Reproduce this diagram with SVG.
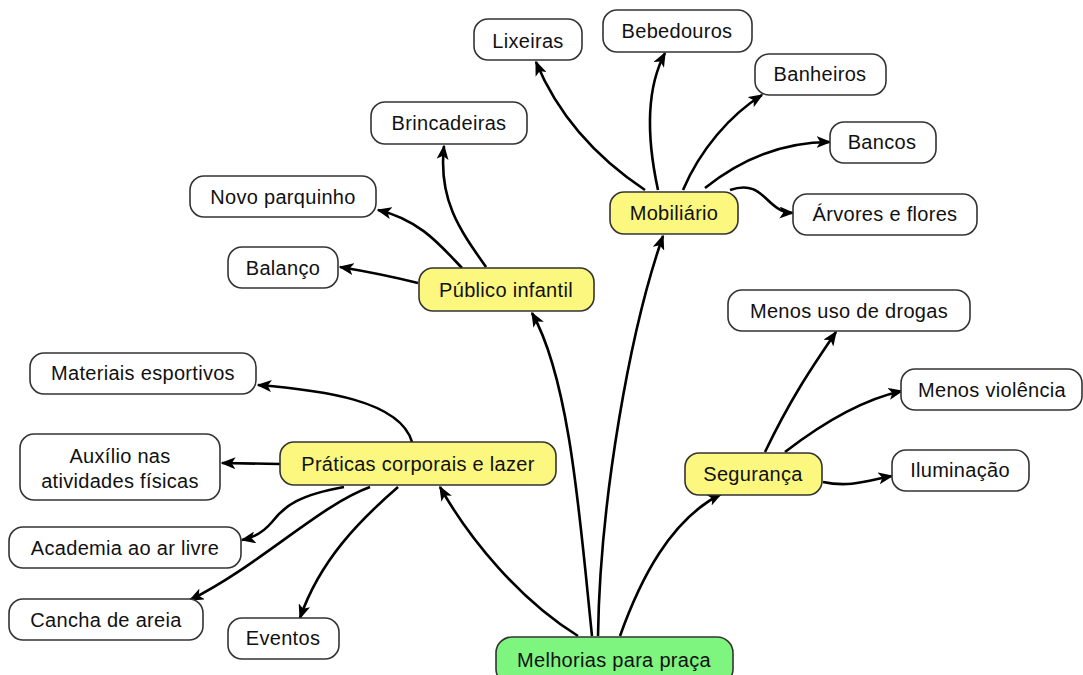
<svg xmlns="http://www.w3.org/2000/svg" width="1083" height="675" viewBox="0 0 1083 675">
<defs>
<marker id="ah" viewBox="0 0 20 16" refX="18" refY="8" markerWidth="15" markerHeight="12" markerUnits="userSpaceOnUse" orient="auto">
<path d="M0,0 L20,8 L0,16 L5,8 Z" fill="#000"/>
</marker>
<style>
.n rect{fill:#fff;stroke:#333;stroke-width:1.6}
.y rect{fill:#FBF77F}
.g rect{fill:#7EF57E}
text{font-family:"Liberation Sans",Arial,sans-serif;font-size:20px;letter-spacing:0.3px;fill:#111;text-anchor:middle;dominant-baseline:central}
.c path{fill:none;stroke:#000;stroke-width:2.6;marker-end:url(#ah)}
</style>
</defs>
<rect width="1083" height="675" fill="#fff"/>
<g class="c" id="connectors">
<path d="M598,636 C600,500 630,330 663,236"/>
<path d="M592,636 C580,520 570,380 532,313"/>
<path d="M578,636 C520,600 470,540 440,487"/>
<path d="M620,636 C640,580 670,520 721,494"/>
<path d="M645,190 C600,160 560,120 536,62"/>
<path d="M658,190 C645,130 648,85 665,53"/>
<path d="M683,190 C700,150 730,115 762,95"/>
<path d="M705,188 C740,160 780,142 830,142"/>
<path d="M730,190 C765,178 765,212 793,213"/>
<path d="M486,267 C460,230 438,200 444,146"/>
<path d="M462,268 C440,245 420,220 378,210"/>
<path d="M418,283 C390,276 370,272 340,267"/>
<path d="M412,442 C400,400 320,390 258,385"/>
<path d="M280,464 L222,463"/>
<path d="M344,487 C300,495 285,505 272,522 C262,534 252,538 242,540"/>
<path d="M370,487 C320,505 260,565 190,600"/>
<path d="M398,487 C360,520 320,560 300,618"/>
<path d="M765,452 C790,400 810,370 836,332"/>
<path d="M785,452 C820,425 860,400 902,391"/>
<path d="M823,482 C850,488 870,480 892,476"/>
</g>
<g id="melhorias" class="n g"><rect x="496" y="637" width="237" height="48" rx="16"/><text x="614" y="660">Melhorias para praça</text></g>
<g id="mobiliario" class="n y"><rect x="610" y="192" width="128" height="42" rx="14"/><text x="674" y="213">Mobiliário</text></g>
<g id="lixeiras" class="n"><rect x="474" y="19" width="108" height="41" rx="14"/><text x="528" y="41">Lixeiras</text></g>
<g id="bebedouros" class="n"><rect x="603" y="10" width="149" height="42" rx="14"/><text x="677" y="31">Bebedouros</text></g>
<g id="banheiros" class="n"><rect x="755" y="54" width="131" height="41" rx="14"/><text x="820" y="74">Banheiros</text></g>
<g id="bancos" class="n"><rect x="830" y="122" width="106" height="41" rx="14"/><text x="882" y="142">Bancos</text></g>
<g id="arvores" class="n"><rect x="793" y="194" width="184" height="41" rx="14"/><text x="885" y="214">Árvores e flores</text></g>
<g id="publico" class="n y"><rect x="419" y="268" width="175" height="43" rx="14"/><text x="506" y="290">Público infantil</text></g>
<g id="brincadeiras" class="n"><rect x="371" y="102" width="156" height="42" rx="14"/><text x="449" y="123">Brincadeiras</text></g>
<g id="parquinho" class="n"><rect x="190" y="176" width="186" height="41" rx="14"/><text x="283" y="197">Novo parquinho</text></g>
<g id="balanco" class="n"><rect x="228" y="247" width="110" height="41" rx="14"/><text x="283" y="268">Balanço</text></g>
<g id="praticas" class="n y"><rect x="280" y="442" width="276" height="43" rx="14"/><text x="418" y="464">Práticas corporais e lazer</text></g>
<g id="materiais" class="n"><rect x="30" y="353" width="226" height="41" rx="14"/><text x="143" y="373">Materiais esportivos</text></g>
<g id="auxilio" class="n"><rect x="20" y="434" width="200" height="66" rx="14"/><text x="120" y="456">Auxílio nas</text><text x="120" y="481">atividades físicas</text></g>
<g id="academia" class="n"><rect x="9" y="527" width="232" height="41" rx="14"/><text x="125" y="548">Academia ao ar livre</text></g>
<g id="cancha" class="n"><rect x="9" y="599" width="194" height="41" rx="14"/><text x="106" y="620">Cancha de areia</text></g>
<g id="eventos" class="n"><rect x="228" y="618" width="111" height="41" rx="14"/><text x="283" y="638">Eventos</text></g>
<g id="seguranca" class="n y"><rect x="685" y="453" width="137" height="42" rx="14"/><text x="753" y="474">Segurança</text></g>
<g id="drogas" class="n"><rect x="728" y="290" width="242" height="41" rx="14"/><text x="849" y="311">Menos uso de drogas</text></g>
<g id="violencia" class="n"><rect x="901" y="369" width="181" height="41" rx="14"/><text x="992" y="390">Menos violência</text></g>
<g id="iluminacao" class="n"><rect x="892" y="450" width="137" height="41" rx="14"/><text x="960" y="470">Iluminação</text></g>
</svg>
